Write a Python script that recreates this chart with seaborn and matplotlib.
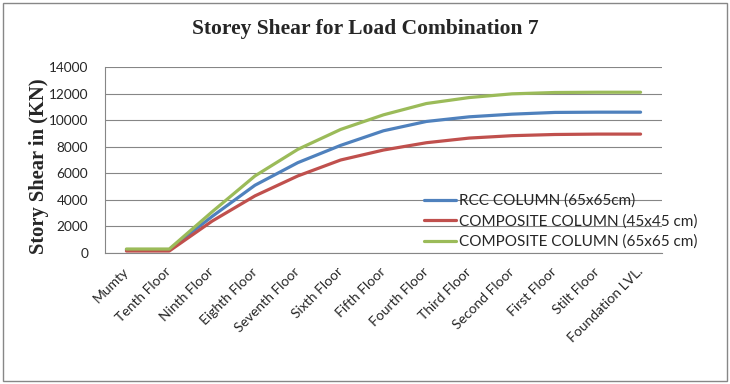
import pandas as pd
import matplotlib
matplotlib.use('Agg')
import matplotlib.pyplot as plt
from matplotlib.patches import Rectangle
import seaborn as sns

floors = ['Mumty', 'Tenth Floor', 'Ninth Floor', 'Eighth Floor', 'Seventh Floor',
          'Sixth Floor', 'Fifth Floor', 'Fourth Floor', 'Third Floor', 'Second Floor',
          'First Floor', 'Stilt Floor', 'Foundation LVL.']
rcc_65 = [250, 250, 2750, 5100, 6800, 8100, 9200, 9900, 10250, 10450, 10580, 10600, 10600]
comp_45 = [150, 150, 2400, 4300, 5800, 7000, 7750, 8300, 8650, 8830, 8920, 8950, 8950]
comp_65 = [300, 300, 3100, 5800, 7800, 9300, 10400, 11250, 11700, 11980, 12080, 12100, 12100]
series_names = ['RCC COLUMN (65x65cm)', 'COMPOSITE COLUMN (45x45 cm)', 'COMPOSITE COLUMN (65x65 cm)']
colors = ['#4F81BD', '#C0504D', '#9BBB59']

rows = []
for name, vals in zip(series_names, [rcc_65, comp_45, comp_65]):
    for i, (f, v) in enumerate(zip(floors, vals)):
        rows.append({'pos': i, 'Floor': f, 'Shear': v, 'Series': name})
df = pd.DataFrame(rows)

sns.set_style('white')
plt.rcParams['font.family'] = ['Lato', 'DejaVu Sans']

fig = plt.figure(figsize=(7.3, 3.84), dpi=100)
ax = fig.add_axes([105 / 730, 1 - 253 / 384, (662 - 105) / 730, (253 - 67) / 384])

sns.lineplot(data=df, x='pos', y='Shear', hue='Series', palette=colors,
             hue_order=series_names, sort=False, linewidth=2.3, ax=ax)

ax.set_xlim(-0.5, len(floors) - 0.5)
ax.set_ylim(0, 14000)
ax.set_yticks(range(0, 14001, 2000))
ax.set_yticklabels([str(v) for v in range(0, 14001, 2000)], fontsize=9.8)
ax.set_xticks(range(len(floors)))
ax.set_xticklabels(floors, rotation=45, ha='right', va='center', rotation_mode='anchor',
                   fontsize=10)
ax.tick_params(axis='y', length=0, pad=12)
ax.tick_params(axis='x', length=0, pad=12)
ax.yaxis.grid(True, color='#868686', linewidth=0.8)
ax.set_axisbelow(True)
for s in ['top', 'right']:
    ax.spines[s].set_visible(False)
for s in ['left', 'bottom']:
    ax.spines[s].set_color('#868686')
    ax.spines[s].set_linewidth(0.8)

ax.set_xlabel('')
ax.set_ylabel('Story Shear in (KN)', family='Liberation Serif', fontweight='bold',
              fontsize=14.8)
ax.yaxis.set_label_coords(-(105 - 49) / 557, (253 - 166) / 186)
fig.text(0.5, 1 - 29 / 384, 'Storey Shear for Load Combination 7', family='Liberation Serif',
         fontweight='bold', fontsize=15.5, ha='center', va='center')

handles, labels = ax.get_legend_handles_labels()
ax.legend(handles, labels, loc='upper left', bbox_to_anchor=(416 / 730, 1 - 186 / 384),
          bbox_transform=fig.transFigure, frameon=False, fontsize=11, handlelength=2.1,
          handletextpad=0.2, labelspacing=0.4, borderpad=0)

fig.patches.append(Rectangle((3 / 730, 3 / 384), 724 / 730, 378 / 384, transform=fig.transFigure,
                             fill=False, edgecolor='#878787', linewidth=1))

fig.savefig('out.png', dpi=100, facecolor='white')
